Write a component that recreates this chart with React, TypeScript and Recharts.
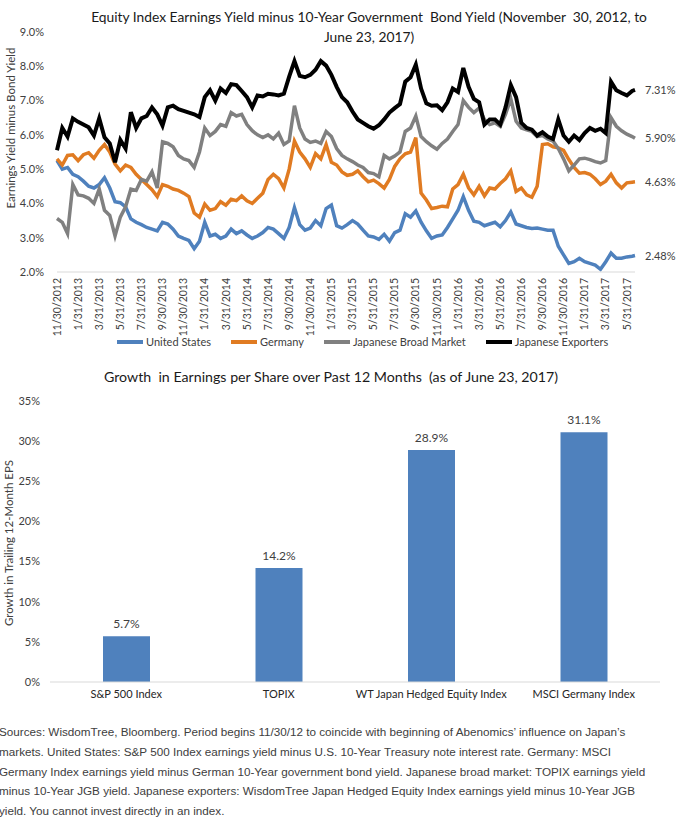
import { LineChart, Line, XAxis, YAxis, BarChart, Bar, LabelList } from 'recharts'

const FONT = 'Lato, "Open Sans", sans-serif'

// x-axis labels, one every two months starting 11/30/2012
const tickLabels = [
  '11/30/2012', '1/31/2013', '3/31/2013', '5/31/2013', '7/31/2013', '9/30/2013', '11/30/2013',
  '1/31/2014', '3/31/2014', '5/31/2014', '7/31/2014', '9/30/2014', '11/30/2014',
  '1/31/2015', '3/31/2015', '5/31/2015', '7/31/2015', '9/30/2015', '11/30/2015',
  '1/31/2016', '3/31/2016', '5/31/2016', '7/31/2016', '9/30/2016', '11/30/2016',
  '1/31/2017', '3/31/2017', '5/31/2017',
]

// samples every half month from 11/30/2012, last one is 6/23/2017
const lastMonth = 54.77

const unitedStates = [
  5.25, 5.0, 5.05, 4.85, 4.78, 4.65, 4.5, 4.45, 4.55, 4.75,
  4.45, 4.05, 4.02, 3.9, 3.55, 3.45, 3.38, 3.3, 3.25, 3.2,
  3.45, 3.4, 3.25, 3.05, 2.98, 2.92, 2.68, 2.9, 3.45, 3.05,
  3.1, 2.98, 3.05, 3.25, 3.12, 3.2, 3.08, 2.98, 3.05, 3.15,
  3.3, 3.25, 3.12, 2.98, 3.3, 3.88, 3.38, 3.22, 3.28, 3.5,
  3.35, 3.85, 3.95, 3.35, 3.28, 3.38, 3.5, 3.4, 3.22, 3.05,
  3.02, 2.95, 3.1, 2.9, 3.15, 3.22, 3.7, 3.6, 3.78, 3.45,
  3.2, 2.98, 3.05, 3.08, 3.3, 3.55, 3.8, 4.2, 3.8, 3.48,
  3.45, 3.35, 3.4, 3.45, 3.32, 3.5, 3.75, 3.4, 3.35, 3.3,
  3.27, 3.28, 3.25, 3.22, 3.22, 2.75, 2.5, 2.25, 2.3, 2.4,
  2.3, 2.25, 2.2, 2.08, 2.3, 2.55, 2.4, 2.4, 2.44, 2.46,
  2.48,
]

const germany = [
  5.3, 5.12, 5.4, 5.42, 5.25, 5.42, 5.48, 5.32, 5.55, 5.72,
  5.5, 5.15, 4.95, 5.12, 5.05, 4.85, 4.7, 4.55, 4.4, 4.2,
  4.55, 4.5, 4.42, 4.38, 4.3, 4.2, 3.72, 3.6, 3.98, 3.8,
  3.85, 4.05, 3.95, 4.12, 4.08, 4.22, 4.08, 4.0, 4.15, 4.3,
  4.7, 4.85, 4.72, 4.45, 5.0, 5.82, 5.5, 5.3, 5.05, 5.45,
  5.3, 5.72, 5.2, 5.12, 4.92, 4.82, 4.85, 4.95, 4.78, 4.63,
  4.68, 4.58, 4.45, 4.7, 5.08, 5.3, 5.45, 5.5, 5.92, 4.3,
  4.1, 3.85, 3.88, 3.92, 3.9, 4.42, 4.55, 4.85, 4.45, 4.25,
  4.5, 4.22, 4.45, 4.42, 4.58, 4.72, 4.95, 4.35, 4.45, 4.25,
  4.18, 4.5, 5.72, 5.74, 5.65, 5.62, 5.55, 5.28, 5.05, 4.88,
  4.9, 4.85, 4.72, 4.55, 4.65, 4.85, 4.6, 4.45, 4.6, 4.62,
  4.63,
]

const japanBroad = [
  3.56, 3.45, 3.12, 4.55, 4.25, 4.22, 4.15, 4.0, 4.42, 3.8,
  3.65, 3.05, 3.6, 3.9, 4.42, 4.38, 4.7, 4.65, 4.92, 4.45,
  5.8, 5.75, 5.65, 5.4, 5.3, 5.25, 5.05, 5.5, 6.2, 5.98,
  6.1, 6.3, 6.25, 6.65, 6.55, 6.6, 6.3, 6.12, 6.0, 5.92,
  6.0, 5.88, 6.05, 5.72, 5.82, 6.85, 6.2, 5.88, 5.78, 5.82,
  5.75, 6.1, 5.95, 5.6, 5.4, 5.3, 5.22, 5.12, 5.05, 4.9,
  4.87, 4.78, 5.4, 5.3, 5.38, 5.5, 6.1, 6.2, 6.55, 5.95,
  5.8, 5.68, 5.58, 5.75, 5.88, 6.1, 6.3, 7.0, 6.8, 6.65,
  6.78, 6.45, 6.3, 6.35, 6.25, 6.6, 7.05, 6.4, 6.2, 6.15,
  6.1, 5.95, 5.98, 5.88, 5.82, 5.6, 5.3, 4.95, 5.12, 5.3,
  5.32, 5.28, 5.22, 5.18, 5.25, 6.5, 6.25, 6.12, 6.02, 5.95,
  5.9,
]

const japanExporters = [
  5.55, 6.2, 5.95, 6.48, 6.38, 6.3, 6.22, 5.98, 6.48, 5.93,
  5.75, 5.2, 5.85, 5.6, 6.66, 6.2, 6.48, 6.55, 6.8, 6.6,
  6.27, 6.8, 6.85, 6.75, 6.7, 6.65, 6.6, 6.52, 7.1, 7.3,
  7.0, 7.35, 7.22, 7.48, 7.45, 7.28, 7.1, 6.8, 7.15, 7.12,
  7.2, 7.18, 7.15, 7.2, 7.7, 8.15, 7.72, 7.68, 7.75, 7.9,
  8.15, 8.02, 7.75, 7.4, 7.1, 6.95, 6.68, 6.45, 6.35, 6.25,
  6.18, 6.28, 6.45, 6.65, 6.78, 6.9, 7.55, 7.68, 8.05, 7.35,
  6.92, 6.85, 6.86, 6.72, 6.95, 7.35, 7.25, 7.95, 7.4, 7.05,
  6.95, 6.3, 6.45, 6.45, 6.3, 6.8, 7.45, 7.1, 6.35, 6.2,
  6.15, 5.98, 6.08, 5.95, 5.88, 6.45, 5.98, 5.8, 5.98, 5.85,
  6.05, 6.2, 6.12, 6.18, 6.05, 7.55, 7.3, 7.22, 7.15, 7.28,
  7.31,
]

const yieldTicks = [2, 3, 4, 5, 6, 7, 8, 9]

const barCategories = ['S&P 500 Index', 'TOPIX', 'WT Japan Hedged Equity Index', 'MSCI Germany Index']
const epsGrowth = [5.7, 14.2, 28.9, 31.1]
const growthTicks = [0, 5, 10, 15, 20, 25, 30, 35]

const series = [
  { key: 'us', name: 'United States', color: '#4F81BD', width: 3.5 },
  { key: 'de', name: 'Germany', color: '#E07B22', width: 3.5 },
  { key: 'jbm', name: 'Japanese Broad Market', color: '#808080', width: 3.5 },
  { key: 'jx', name: 'Japanese Exporters', color: '#000000', width: 4 },
]

const lineData = unitedStates.map((v, i) => ({
  t: i < unitedStates.length - 1 ? i / 2 : lastMonth,
  us: v,
  de: germany[i],
  jbm: japanBroad[i],
  jx: japanExporters[i],
}))

const barData = barCategories.map((name, i) => ({ name, value: epsGrowth[i] }))

const lastIndex = lineData.length - 1

const endLabel = (props: any) => {
  const { x, y, index, value } = props
  if (index !== lastIndex) return null
  return (
    <text x={x + 10} y={y} dy={4} fontSize={11} fill="#404040" fontFamily={FONT}>
      {Number(value).toFixed(2)}%
    </text>
  )
}

const DateTick = (props: any) => {
  const { x, y, payload } = props
  return (
    <g transform={`translate(${x},${y})`}>
      <text transform="rotate(-90)" textAnchor="end" dy="0.35em" fontSize={10.5} fill="#404040" fontFamily={FONT}>
        {tickLabels[Math.round(payload.value / 2)]}
      </text>
    </g>
  )
}

const abs = (left: number, top: number, extra: any = {}) => ({
  position: 'absolute' as const,
  left,
  top,
  ...extra,
})

export default function App() {
  return (
    <div style={{ position: 'absolute', left: 0, top: 0, width: 677, height: 823, overflow: 'hidden', background: '#fff', fontFamily: FONT, color: '#1a1a1a' }}>
      <div style={abs(369, 7, { transform: 'translateX(-50%)', whiteSpace: 'pre', fontSize: 13.8, lineHeight: '20px', textAlign: 'center' })}>
        {'Equity Index Earnings Yield minus 10-Year Government  Bond Yield (November  30, 2012, to\nJune 23, 2017)'}
      </div>
      <div style={abs(10, 128, { transform: 'translate(-50%,-50%) rotate(-90deg)', whiteSpace: 'nowrap', fontSize: 11.5, color: '#404040' })}>
        Earnings Yield minus Bond Yield
      </div>

      <div style={abs(0, 0)}>
        <LineChart width={677} height={352} data={lineData} margin={{ top: 32, right: 42, bottom: 0, left: 0 }}>
          <XAxis
            dataKey="t"
            type="number"
            domain={[0, lastMonth]}
            ticks={tickLabels.map((_, i) => i * 2)}
            interval={0}
            tick={<DateTick />}
            tickLine={false}
            tickSize={4}
            tickMargin={2}
            height={80}
            axisLine={{ stroke: '#d9d9d9' }}
          />
          <YAxis
            domain={[2, 9]}
            ticks={yieldTicks}
            tickFormatter={(v: number) => `${v.toFixed(1)}%`}
            width={57}
            axisLine={false}
            tickLine={false}
            tickSize={6}
            tickMargin={7}
            tick={{ fontSize: 11, fill: '#404040', fontFamily: FONT }}
          />
          {series.map((s) => (
            <Line
              key={s.key}
              type="linear"
              dataKey={s.key}
              name={s.name}
              stroke={s.color}
              strokeWidth={s.width}
              dot={false}
              isAnimationActive={false}
              label={endLabel}
            />
          ))}
        </LineChart>
      </div>

      <div style={abs(117, 334, { display: 'flex', gap: 20, fontSize: 11, lineHeight: '16px', color: '#404040', whiteSpace: 'nowrap' })}>
        {series.map((s) => (
          <div key={s.key} style={{ display: 'flex', alignItems: 'center', gap: 3 }}>
            <span style={{ display: 'inline-block', width: 26, height: 4, background: s.color }} />
            <span>{s.name}</span>
          </div>
        ))}
      </div>

      <div style={abs(331, 368, { transform: 'translateX(-50%)', whiteSpace: 'pre', fontSize: 14.2, lineHeight: '18px' })}>
        {'Growth  in Earnings per Share over Past 12 Months  (as of June 23, 2017)'}
      </div>
      <div style={abs(8, 543, { transform: 'translate(-50%,-50%) rotate(-90deg)', whiteSpace: 'nowrap', fontSize: 11.5, color: '#404040' })}>
        Growth in Trailing 12-Month EPS
      </div>

      <div style={abs(0, 360)}>
        <BarChart width={677} height={350} data={barData} margin={{ top: 41, right: 17, bottom: 0, left: 0 }}>
          <XAxis
            dataKey="name"
            interval={0}
            height={28}
            tickLine={false}
            axisLine={{ stroke: '#d9d9d9' }}
            tick={{ fontSize: 11, fill: '#262626', fontFamily: FONT }}
          />
          <YAxis
            domain={[0, 35]}
            ticks={growthTicks}
            tickFormatter={(v: number) => `${v}%`}
            width={50}
            axisLine={false}
            tickLine={false}
            tickSize={6}
            tickMargin={4}
            tick={{ fontSize: 11, fill: '#404040', fontFamily: FONT }}
          />
          <Bar dataKey="value" fill="#4F81BD" barSize={47} isAnimationActive={false}>
            <LabelList
              dataKey="value"
              position="top"
              offset={8}
              formatter={(v: any) => `${Number(v).toFixed(1)}%`}
              style={{ fontSize: 12, fill: '#404040', fontFamily: FONT }}
            />
          </Bar>
        </BarChart>
      </div>

      <div style={abs(-1, 722, { fontFamily: '"Liberation Sans", Arial, sans-serif', fontSize: 11.7, lineHeight: '19.8px', color: '#404040', whiteSpace: 'nowrap' })}>
        <div>Sources: WisdomTree, Bloomberg. Period begins 11/30/12 to coincide with beginning of Abenomics’ influence on Japan’s</div>
        <div>markets. United States: S&amp;P 500 Index earnings yield minus U.S. 10-Year Treasury note interest rate. Germany: MSCI</div>
        <div>Germany Index earnings yield minus German 10-Year government bond yield. Japanese broad market: TOPIX earnings yield</div>
        <div>minus 10-Year JGB yield. Japanese exporters: WisdomTree Japan Hedged Equity Index earnings yield minus 10-Year JGB</div>
        <div>yield. You cannot invest directly in an index.</div>
      </div>
    </div>
  )
}
